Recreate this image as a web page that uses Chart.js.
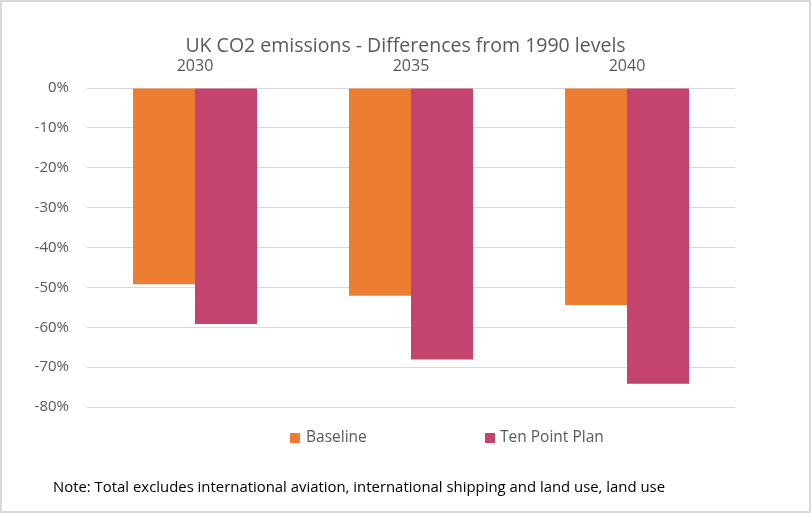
<!DOCTYPE html>
<html>
<head>
<meta charset="utf-8">
<script src="https://cdn.jsdelivr.net/npm/chart.js@4.4.1/dist/chart.umd.min.js"></script>
<style>
html,body{margin:0;padding:0;background:#fff;}
canvas{display:block;}
</style>
</head>
<body>
<canvas id="c" width="811" height="513"></canvas>
<script>
const categories = ['2030', '2035', '2040'];
const seriesNames = ['Baseline', 'Ten Point Plan'];
const baseline = [-49.2, -52.1, -54.4];
const tenPointPlan = [-59.2, -68.1, -74.2];
const yTicks = [0, -10, -20, -30, -40, -50, -60, -70, -80];
const titleText = 'UK CO2 emissions - Differences from 1990 levels';
const noteText = 'Note: Total excludes international aviation, international shipping and land use, land use';

const colors = ['#ED7D31', '#C4446E'];
const FONT = '"Open Sans", Lato, sans-serif';
const TITLE_SIZE = 19.5;
const TITLE_PAD = 35;

const decor = {
  id: 'decor',
  beforeDraw(chart) {
    const ctx = chart.ctx;
    ctx.save();
    ctx.fillStyle = '#fff';
    ctx.fillRect(0, 0, chart.width, chart.height);
    ctx.restore();
  },
  afterLayout(chart) {
    const t = chart.titleBlock;
    if (t) { t.left = 0; t.right = chart.width; t.width = chart.width; }
  },
  afterDraw(chart) {
    const ctx = chart.ctx;
    ctx.save();
    ctx.strokeStyle = '#d9d9d9';
    ctx.lineWidth = 2;
    ctx.strokeRect(1, 1, chart.width - 2, chart.height - 2);
    // legend
    const items = [{x: 290, tx: 306}, {x: 485, tx: 500}];
    ctx.font = '15.5px ' + FONT;
    ctx.textBaseline = 'middle';
    ctx.textAlign = 'left';
    items.forEach((it, i) => {
      ctx.fillStyle = colors[i];
      ctx.fillRect(it.x, 433, 10, 10);
      ctx.fillStyle = '#595959';
      ctx.fillText(chart.data.datasets[i].label, it.tx, 438);
    });
    // note
    ctx.font = '14.9px ' + FONT;
    ctx.fillStyle = '#000';
    ctx.fillText(noteText, 53, 488);
    ctx.restore();
  }
};

new Chart(document.getElementById('c'), {
  type: 'bar',
  data: {
    labels: categories,
    datasets: [
      {label: seriesNames[0], data: baseline, backgroundColor: colors[0], borderWidth: 0},
      {label: seriesNames[1], data: tenPointPlan, backgroundColor: colors[1], borderWidth: 0}
    ]
  },
  options: {
    responsive: false,
    devicePixelRatio: 1,
    animation: false,
    layout: {padding: {left: 0, right: 76, top: 0, bottom: 106}},
    datasets: {bar: {categoryPercentage: 0.574, barPercentage: 1}},
    plugins: {
      legend: {display: false},
      tooltip: {enabled: false},
      title: {
        display: true,
        text: titleText,
        color: '#595959',
        font: {family: FONT, size: TITLE_SIZE, weight: 'normal'},
        padding: {top: TITLE_PAD, bottom: 0}
      }
    },
    scales: {
      x: {
        position: 'top',
        grid: {display: false, drawTicks: false},
        border: {display: false},
        ticks: {color: '#595959', font: {family: FONT, size: 16}, padding: 12},
        afterFit(s) { s.height = 88 - (TITLE_PAD + TITLE_SIZE * 1.2); }
      },
      y: {
        min: -80,
        max: 0,
        afterBuildTicks(s) { s.ticks = yTicks.map(v => ({value: v})); },
        grid: {color: '#d9d9d9', drawTicks: false},
        border: {display: false},
        ticks: {
          color: '#595959',
          font: {family: FONT, size: 15},
          padding: 18,
          callback: v => v + '%'
        },
        afterFit(s) { s.width = 87; }
      }
    }
  },
  plugins: [decor]
});
</script>
</body>
</html>
